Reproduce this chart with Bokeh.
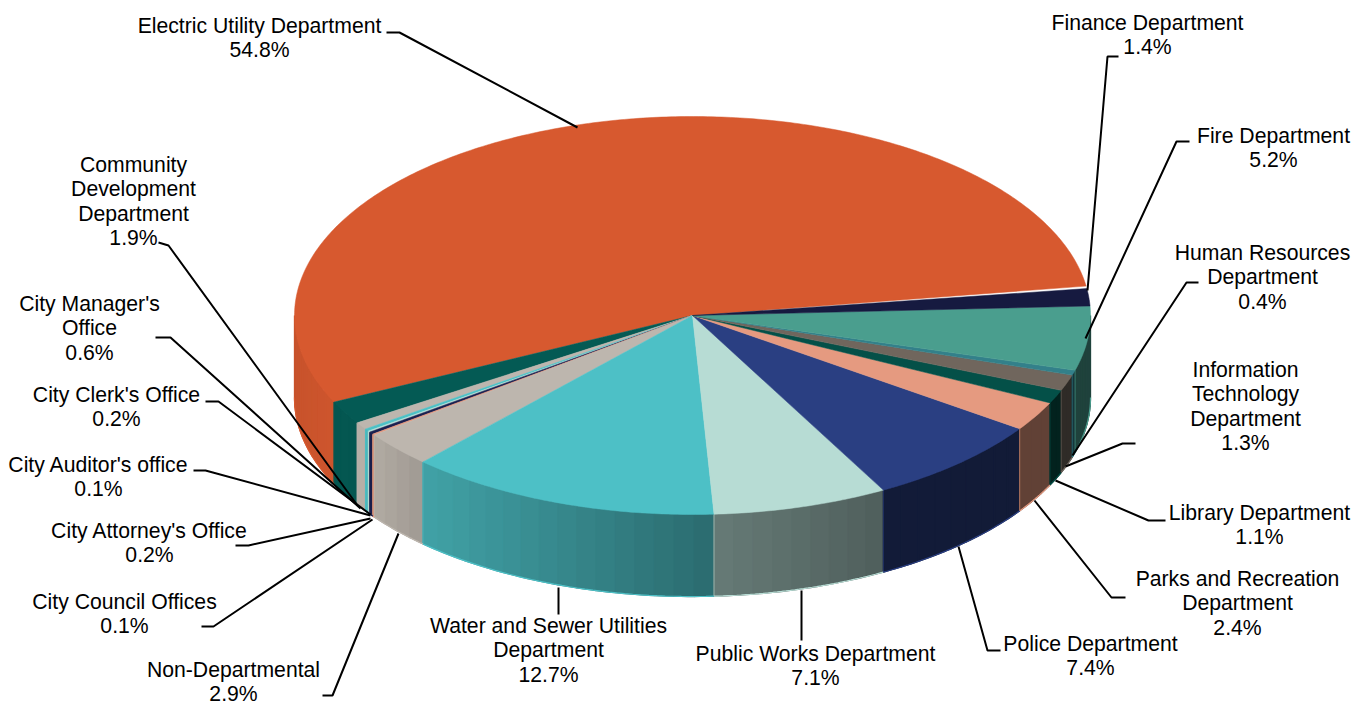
import numpy as np
from bokeh.plotting import figure
from bokeh.models import ColumnDataSource, Range1d
from bokeh.core.properties import value
from bokeh.embed import file_html
from bokeh.resources import INLINE

departments = ["Electric Utility Department", "Community Development Department", "City Manager's Office",
               "City Clerk's Office", "City Auditor's office", "City Attorney's Office", "City Council Offices",
               "Non-Departmental", "Water and Sewer Utilities Department", "Public Works Department",
               "Police Department", "Parks and Recreation Department", "Library Department",
               "Information Technology Department", "Human Resources Department", "Fire Department",
               "Finance Department"]
shares = [54.8, 1.9, 0.6, 0.2, 0.1, 0.2, 0.1, 2.9, 12.7, 7.1, 7.4, 2.4, 1.1, 1.3, 0.4, 5.2, 1.4]
colors = ["#D7592F", "#045A54", "#BDB6AE", "#4DC0C6", "#B7DCD4", "#1A2050", "#E59A80", "#BDB6AE", "#4DC0C6",
          "#B7DCD4", "#2A3F82", "#E59A80", "#045048", "#70665D", "#33808A", "#4A9E8E", "#161A40"]
label_lines = [["Electric Utility Department", "54.8%"], ["Community", "Development", "Department", "1.9%"],
               ["City Manager's", "Office", "0.6%"], ["City Clerk's Office", "0.2%"],
               ["City Auditor's office", "0.1%"], ["City Attorney's Office", "0.2%"],
               ["City Council Offices", "0.1%"], ["Non-Departmental", "2.9%"],
               ["Water and Sewer Utilities", "Department", "12.7%"], ["Public Works Department", "7.1%"],
               ["Police Department", "7.4%"], ["Parks and Recreation", "Department", "2.4%"],
               ["Library Department", "1.1%"], ["Information", "Technology", "Department", "1.3%"],
               ["Human Resources", "Department", "0.4%"], ["Fire Department", "5.2%"],
               ["Finance Department", "1.4%"]]

# layout (page pixels)
W, H = 1367, 705
CX, CY, RX, RY, DEPTH = 692.0, 315.0, 398.0, 199.0, 82.0
START = 8.5
label_pos = [(259, 24.5), (133, 163.5), (89, 302.5), (116, 393.5), (98, 463.5), (149, 529.5), (124, 600.5),
             (233, 668.5), (548, 624.5), (815, 652.5), (1090, 642.5), (1237, 577.5), (1259, 511.5),
             (1245, 368.5), (1262, 251.5), (1273, 134.5), (1147, 21.5)]
LINE_STEP = 24.6
leaders = [[(386, 32), (399, 32), (577, 127)], [(158, 242), (168, 245), (357, 505)],
           [(155, 337), (170, 337), (360, 508)], [(205, 401), (218, 401), (370, 514)],
           [(193, 470), (205, 470), (370, 515)], [(235, 545), (248, 545), (370, 518)],
           [(201, 626), (213, 626), (372, 519)], [(322, 695), (332, 695), (398, 533)],
           [(558, 614), (558, 587)], [(801, 640), (801, 590)],
           [(1000, 650), (987, 650), (958, 546)], [(1125, 597), (1111, 597), (1034, 500)],
           [(1165, 520), (1148, 520), (1055, 480)], [(1135, 443), (1122, 443), (1065, 466)],
           [(1198, 282), (1186, 282), (1072, 455)], [(1189, 141), (1176, 141), (1085, 338)],
           [(1118, 56), (1107, 56), (1087, 290)]]
shade_x = [294, 357, 425, 713, 885, 1090]
shade_f = [0.93, 0.97, 0.84, 0.56, 0.43, 0.42]

def px(t): return CX + RX * np.cos(np.radians(t))
def py(t): return CY - RY * np.sin(np.radians(t))
def rgb(h): return np.array([int(h[i:i + 2], 16) for i in (1, 3, 5)], float)
def tohex(c): return "#%02x%02x%02x" % tuple(int(round(v)) for v in c)

edges = START + np.concatenate([[0], np.cumsum(shares)]) * 3.6

p = figure(width=W, height=H, x_range=Range1d(0, W), y_range=Range1d(H, 0), output_backend="svg",
           toolbar_location=None, min_border=0, outline_line_color=None, background_fill_color="white",
           border_fill_color="white")
p.xaxis.visible = False
p.yaxis.visible = False
p.grid.visible = False

# side walls
wx, wy, wc = [], [], []
rc_ = []
for a, b, col in zip(edges[:-1], edges[1:], colors):
    lo, hi = max(a, 180.0), min(b, 360.0)
    if hi <= lo:
        continue
    steps = np.linspace(lo, hi, max(2, int((hi - lo) / 3.0) + 2))
    base = rgb(col)
    for s, e in zip(steps[:-1], steps[1:]):
        ts = np.linspace(s, e, 4)
        x = px(ts); y = py(ts)
        wx.append(np.concatenate([x, x[::-1]]))
        wy.append(np.concatenate([y, y[::-1] + DEPTH]))
        wc.append(tohex(base * np.interp(x.mean(), shade_x, shade_f)))
    rc_.append(col)
p.patches("x", "y", fill_color="c", line_color="c", line_width=1.3,
          source=ColumnDataSource(dict(x=wx, y=wy, c=wc)))
seam_x = [[px(a)] * 2 for a in edges[:-1] if 180 < a < 360]
seam_y = [[py(a), py(a) + DEPTH] for a in edges[:-1] if 180 < a < 360]
seam_c = [c for a, c in zip(edges[:-1], colors) if 180 < a < 360]
p.multi_line("x", "y", line_color="c", line_width=1, line_alpha=0.6,
             source=ColumnDataSource(dict(x=seam_x, y=seam_y, c=seam_c)))
spans = [(max(a, 180.0), min(b, 360.0)) for a, b in zip(edges[:-1], edges[1:]) if min(b, 360) > max(a, 180)]
rim_x = [px(np.linspace(s, e, 40)) for s, e in spans]
rim_y = [py(np.linspace(s, e, 40)) + DEPTH for s, e in spans]
p.multi_line("x", "y", line_color="c", line_width=1.2,
             source=ColumnDataSource(dict(x=rim_x, y=rim_y, c=rc_)))

# top face
tx, ty = [], []
for a, b in zip(edges[:-1], edges[1:]):
    ts = np.linspace(a, b, max(3, int((b - a) * 1.5) + 2))
    tx.append(np.concatenate([[CX], px(ts)]))
    ty.append(np.concatenate([[CY], py(ts)]))
p.patches("x", "y", fill_color="c", line_color="c", line_width=0.5,
          source=ColumnDataSource(dict(x=tx, y=ty, c=colors, name=departments, share=shares)))

# leaders
p.multi_line([[q[0] for q in l] for l in leaders], [[q[1] for q in l] for l in leaders],
             line_color="black", line_width=2)

# labels
xs, ys, texts = [], [], []
for (lx, ly), lines in zip(label_pos, label_lines):
    for i, t in enumerate(lines):
        xs.append(lx); ys.append(ly + i * LINE_STEP); texts.append(t)
p.text(xs, ys, text=texts, text_align="center", text_baseline="middle", text_color="black",
       text_font=value("Liberation Sans"), text_font_size="21.2px")

open("out.html", "w").write(file_html(p, INLINE))
